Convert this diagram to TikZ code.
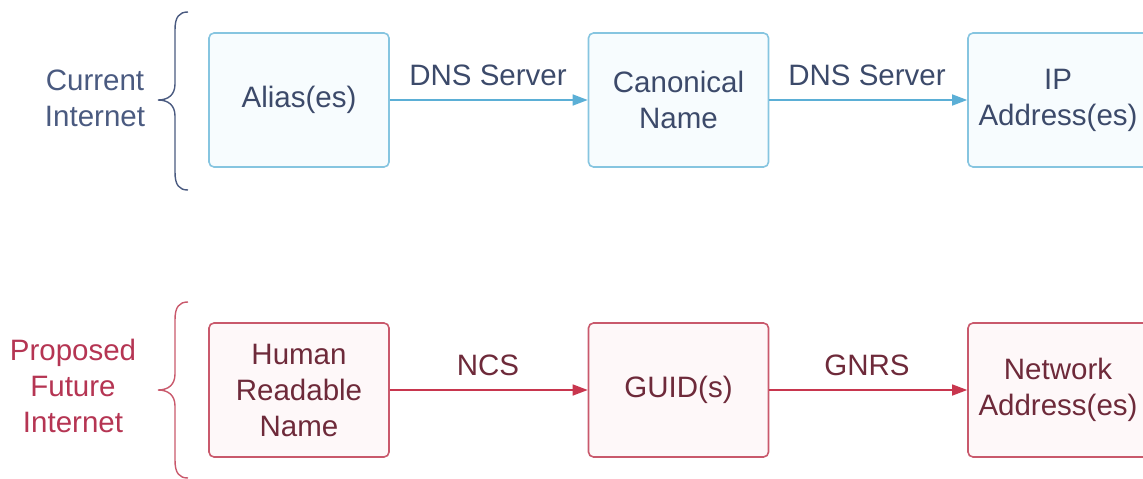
\documentclass[tikz,border=0pt]{standalone}
\usepackage{fontspec}
\setmainfont{Liberation Sans}
\usetikzlibrary{arrows.meta}
\definecolor{bline}{HTML}{5BAFD6}
\definecolor{bbox}{HTML}{86C5E0}
\definecolor{bfill}{HTML}{F7FCFE}
\definecolor{btext}{HTML}{3C4A6A}
\definecolor{bbrace}{HTML}{4A5A80}
\definecolor{rline}{HTML}{C8364E}
\definecolor{rbox}{HTML}{C9596C}
\definecolor{rfill}{HTML}{FEF8F9}
\definecolor{rtext}{HTML}{6E2A3A}
\definecolor{rlabel}{HTML}{B53553}
\tikzset{
  txt/.style={font=\fontsize{29.5}{36}\selectfont, align=center, inner sep=0pt},
  bluebox/.style={txt, draw=bbox, fill=bfill, line width=1.6pt, rounded corners=5pt,
    minimum width=180pt, minimum height=134pt, text=btext},
  redbox/.style={txt, draw=rbox, fill=rfill, line width=1.6pt, rounded corners=5pt,
    minimum width=180pt, minimum height=134pt, text=rtext},
  bluearrow/.style={draw=bline, line width=1.5pt, -{Triangle[length=15pt,width=11pt]}},
  redarrow/.style={draw=rline, line width=1.5pt, -{Triangle[length=15pt,width=11pt]}},
  bluelbl/.style={txt, text=btext},
  redlbl/.style={txt, text=rtext},
}
\begin{document}
\begin{tikzpicture}[x=1pt,y=-1pt]
\useasboundingbox (0,0) rectangle (1143,479);
\clip (0,0) rectangle (1143,479);
% top row
\node[bluebox] (alias) at (299,100) {Alias(es)};
\node[bluebox] (canon) at (678.5,100) {Canonical\\Name};
\node[bluebox] (ip) at (1058,100) {IP\\Address(es)};
\draw[bluearrow] (alias) -- (canon);
\draw[bluearrow] (canon) -- (ip);
\node[bluelbl] (dns1) at (488,75) {DNS Server};
\node[bluelbl] (dns2) at (867,75) {DNS Server};
\node[txt, text=bbrace] (cur) at (95,98) {Current\\Internet};
\draw[bbrace, line width=1.4pt] (188,12) .. controls (179,12) and (175,17) .. (175,30) -- (175,84)
  .. controls (175,95) and (168,100) .. (158,100) .. controls (168,100) and (175,105) .. (175,116)
  -- (175,172) .. controls (175,185) and (179,190) .. (188,190);
% bottom row
\node[redbox] (human) at (299,390) {Human\\Readable\\Name};
\node[redbox] (guid) at (678.5,390) {GUID(s)};
\node[redbox] (net) at (1058,390) {Network\\Address(es)};
\draw[redarrow] (human) -- (guid);
\draw[redarrow] (guid) -- (net);
\node[redlbl] (ncs) at (488,365) {NCS};
\node[redlbl] (gnrs) at (867,365) {GNRS};
\node[txt, text=rlabel] (prop) at (73,386) {Proposed\\Future\\Internet};
\draw[rbox, line width=1.4pt] (188,302) .. controls (179,302) and (175,307) .. (175,320) -- (175,374)
  .. controls (175,385) and (168,390) .. (158,390) .. controls (168,390) and (175,395) .. (175,406)
  -- (175,460) .. controls (175,473) and (179,478) .. (188,478);
\end{tikzpicture}
\end{document}
